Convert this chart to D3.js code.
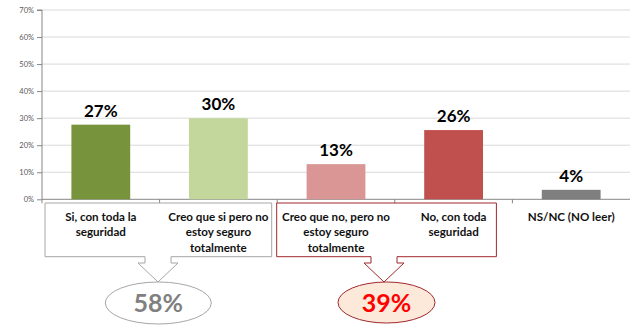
<!DOCTYPE html>
<html><head><meta charset="utf-8">
<script src="https://cdn.jsdelivr.net/npm/d3@7"></script>
<style>body{margin:0;background:#fff}svg{display:block}</style>
</head><body>
<svg id="c" width="641" height="336"></svg>
<script>
const categories = ["Si, con toda la seguridad","Creo que si pero no estoy seguro totalmente","Creo que no, pero no estoy seguro totalmente","No, con toda seguridad","NS/NC (NO leer)"];
const categoryLines = [["Si, con toda la","seguridad"],["Creo que si pero no","estoy seguro","totalmente"],["Creo que no, pero no","estoy seguro","totalmente"],["No, con toda","seguridad"],["NS/NC (NO leer)"]];
const values = [27.6, 30.0, 13.0, 25.6, 3.5];
const valueLabels = ["27%","30%","13%","26%","4%"];
const yTicks = [0,10,20,30,40,50,60,70];
const groupLabels = ["58%","39%"];
const groupMembers = [[0,1],[2,3]];

const colors = ["#77933c","#c3d69b","#d99694","#c0504d","#7f7f7f"];
const svg = d3.select("#c");
const L=42, R=630, T=10, B=199.3;
const x = d3.scaleBand().domain(categories).range([L,R]).paddingInner(0.5).paddingOuter(0.25);
const y = d3.scaleLinear().domain([0,70]).range([B,T]);
const step = x.step();
const catLeft = i => L + i*step;

// gridlines
svg.append("g").selectAll("line").data(yTicks.filter(d=>d>0)).join("line")
  .attr("x1",L).attr("x2",R).attr("y1",d=>y(d)).attr("y2",d=>y(d))
  .attr("stroke","#d9d9d9").attr("stroke-width",1);

// y axis
const ya = svg.append("g").attr("transform",`translate(${L},0)`)
  .call(d3.axisLeft(y).tickValues(yTicks).tickFormat(d=>d+"%").tickSize(5).tickPadding(3));
ya.select(".domain").attr("stroke","#868686").attr("d",`M-5,${T}H0V${B+4}`);
ya.selectAll(".tick line").attr("stroke","#868686");
ya.selectAll("text").attr("fill","#595959").style("font-family","Lato, sans-serif").style("font-size","7.5px");

// x axis baseline with boundary ticks
svg.append("line").attr("x1",L).attr("x2",R).attr("y1",B).attr("y2",B).attr("stroke","#868686");
svg.append("g").selectAll("line").data(d3.range(1,categories.length)).join("line")
  .attr("x1",d=>catLeft(d)).attr("x2",d=>catLeft(d)).attr("y1",B).attr("y2",B+4).attr("stroke","#868686");

// bars
svg.append("g").selectAll("rect").data(values).join("rect")
  .attr("x",(d,i)=>x(categories[i])).attr("width",x.bandwidth())
  .attr("y",d=>y(d)).attr("height",d=>B-y(d)).attr("fill",(d,i)=>colors[i]);

// value labels
svg.append("g").selectAll("text").data(values).join("text")
  .attr("x",(d,i)=>x(categories[i])+x.bandwidth()/2).attr("y",d=>y(d)-8)
  .attr("text-anchor","middle").style("font-family","Lato, sans-serif").style("font-weight","bold").style("font-size","17px")
  .attr("fill","#000").text((d,i)=>valueLabels[i]);

// callout boxes
const boxes = [
  {x0: catLeft(0)+3, x1: catLeft(2)-5.5, cx: 158, stroke:"#a6a6a6", fill:"#fff"},
  {x0: catLeft(2)-0.5, x1: catLeft(4)-16, cx: 384, stroke:"#a0282d", fill:"#fff"}
];
const y0=203, y1=256.7, yh=263, ytip=282, sh=13, hh=20;
svg.append("g").selectAll("path").data(boxes).join("path")
  .attr("d",b=>`M${b.x0},${y0}H${b.x1}V${y1}H${b.cx+sh}V${yh}H${b.cx+hh}L${b.cx},${ytip}L${b.cx-hh},${yh}H${b.cx-sh}V${y1}H${b.x0}Z`)
  .attr("fill",b=>b.fill).attr("stroke",b=>b.stroke).attr("stroke-width",1);

// category labels
const cl = svg.append("g").selectAll("text").data(categoryLines).join("text")
  .attr("text-anchor","middle").style("font-family","Lato, sans-serif").style("font-size","11.6px").style("font-weight","bold").attr("fill","#111");
cl.each(function(lines,i){
  const cx = x(categories[i])+x.bandwidth()/2;
  d3.select(this).selectAll("tspan").data(lines).join("tspan")
    .attr("x",cx).attr("y",(d,j)=>220.8+j*15.6).text(d=>d);
});

// group ellipses
const ell = [
  {cx:158.3, cy:303, rx:53, ry:21, fill:"#fff", stroke:"#a6a6a6", color:"#808080"},
  {cx:386.5, cy:302.5, rx:48.5, ry:20.5, fill:"#fde9d9", stroke:"#a0282d", color:"#ff0000"}
];
const eg = svg.append("g").selectAll("g").data(ell).join("g");
eg.append("ellipse").attr("cx",d=>d.cx).attr("cy",d=>d.cy).attr("rx",d=>d.rx).attr("ry",d=>d.ry)
  .attr("fill",d=>d.fill).attr("stroke",d=>d.stroke);
eg.append("text").attr("x",d=>d.cx).attr("y",d=>d.cy+9).attr("text-anchor","middle")
  .style("font-family","Lato, sans-serif").style("font-weight","bold").style("font-size","25px")
  .attr("fill",d=>d.color).text((d,i)=>groupLabels[i]);
</script>
</body></html>
